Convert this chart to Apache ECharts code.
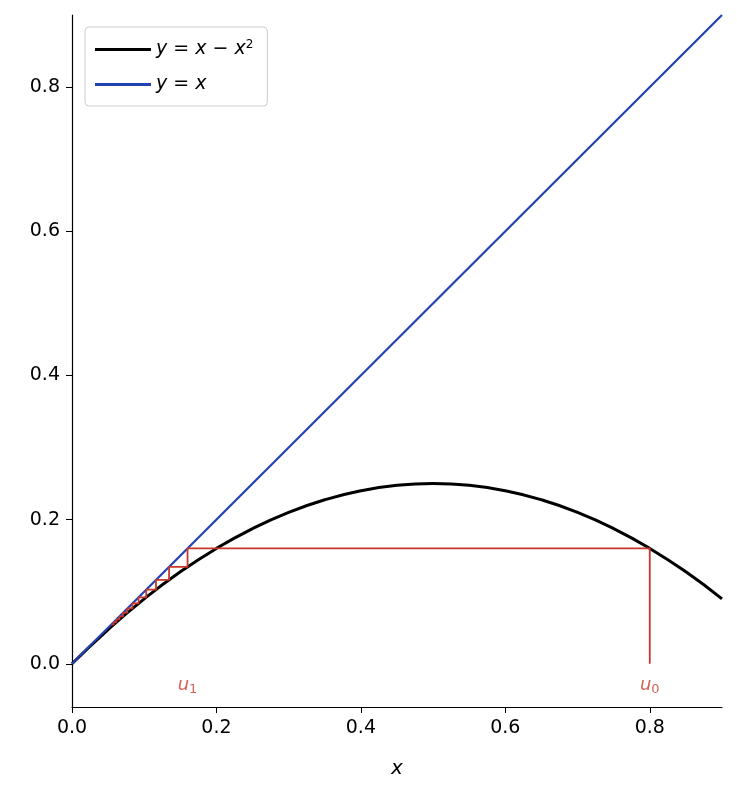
<!DOCTYPE html>
<html><head><meta charset="utf-8">
<script src="https://cdn.jsdelivr.net/npm/echarts@6/dist/echarts.min.js"></script>
<style>html,body{margin:0;padding:0;background:#fff}#c{width:737px;height:800px}</style>
</head><body><div id="c"></div>
<script>
const curveX = [0,0.05,0.1,0.15,0.2,0.25,0.3,0.35,0.4,0.45,0.5,0.55,0.6,0.65,0.7,0.75,0.8,0.85,0.9];
const curveY = [0,0.0475,0.09,0.1275,0.16,0.1875,0.21,0.2275,0.24,0.2475,0.25,0.2475,0.24,0.2275,0.21,0.1875,0.16,0.1275,0.09];
const diagX = [0,0.9];
const diagY = [0,0.9];
const iterates = [0.8,0.16,0.1344,0.1163,0.1028,0.0922,0.0837,0.0767,0.0708,0.0658,0.0615,0.0577,0.0544];
const uLabels = [{x:0.16,y:-0.03,sub:'1'},{x:0.8,y:-0.03,sub:'0'}];
const yTicks = [0,0.2,0.4,0.6,0.8];

const cob = [[iterates[0],0]];
for (let i=0;i<iterates.length-1;i++){
  cob.push([iterates[i],iterates[i+1]]);
  cob.push([iterates[i+1],iterates[i+1]]);
}
const font = 'DejaVu Sans';
const red = '#c8382a';
const chart = echarts.init(document.getElementById('c'));
chart.setOption({
  animation:false,
  textStyle:{fontFamily:font},
  grid:{left:72,right:15,top:15,bottom:93},
  legend:{
    left:85,top:27,orient:'vertical',padding:[12,14,12,10],itemGap:16,
    borderColor:'#ccc',borderWidth:1,borderRadius:4,
    itemWidth:56,itemHeight:3,icon:'rect',
    textStyle:{fontSize:19,color:'#000',rich:{i:{fontStyle:'italic',fontSize:19,fontFamily:font},s:{fontSize:12,verticalAlign:'top',padding:[0,0,9,0],fontFamily:font},n:{fontSize:19,fontFamily:font}}},
    formatter:n=> n==='c' ? '{i|y}{n| = }{i|x}{n| − }{i|x}{s|2}' : '{i|y}{n| = }{i|x}',
    data:['c','d']
  },
  xAxis:{type:'value',min:0,max:0.9,interval:0.2,
    name:'x',nameLocation:'middle',nameGap:52,nameTextStyle:{fontSize:20,fontStyle:'italic',color:'#000'},
    axisLine:{onZero:false,lineStyle:{color:'#000',width:1.2}},axisTick:{show:true,length:6,lineStyle:{color:'#000'}},
    axisLabel:{fontSize:19,color:'#000',margin:12,showMaxLabel:false,formatter:v=>v.toFixed(1)},
    splitLine:{show:false}},
  yAxis:{type:'value',min:-0.06,max:0.9,
    axisLine:{show:true,onZero:false,lineStyle:{color:'#000',width:1.2}},
    axisTick:{show:true,length:6,lineStyle:{color:'#000'},customValues:yTicks},
    axisLabel:{fontSize:19,color:'#000',margin:12,customValues:yTicks,formatter:v=>v.toFixed(1)},
    splitLine:{show:false}},
  series:[
    {name:'c',type:'line',smooth:true,showSymbol:false,data:curveX.map((x,i)=>[x,curveY[i]]),lineStyle:{color:'#000',width:3},itemStyle:{color:'#000'},z:3},
    {name:'d',type:'line',showSymbol:false,data:diagX.map((x,i)=>[x,diagY[i]]),lineStyle:{color:'#2142b0',width:2.2},itemStyle:{color:'#2142b0'},z:4},
    {name:'cob',type:'line',showSymbol:false,data:cob,lineStyle:{color:red,width:1.8},z:5},
    {name:'lab',type:'scatter',symbolSize:0,data:uLabels.map(o=>({value:[o.x,o.y],sub:o.sub})),
      label:{show:true,position:'inside',color:red,
        formatter:p=>'{i|u}{s|'+p.data.sub+'}',
        rich:{i:{fontStyle:'italic',fontSize:18,color:red,fontFamily:font},s:{fontSize:13,color:red,verticalAlign:'bottom',padding:[9,0,0,0],fontFamily:font}}}}
  ]
});
</script></body></html>
